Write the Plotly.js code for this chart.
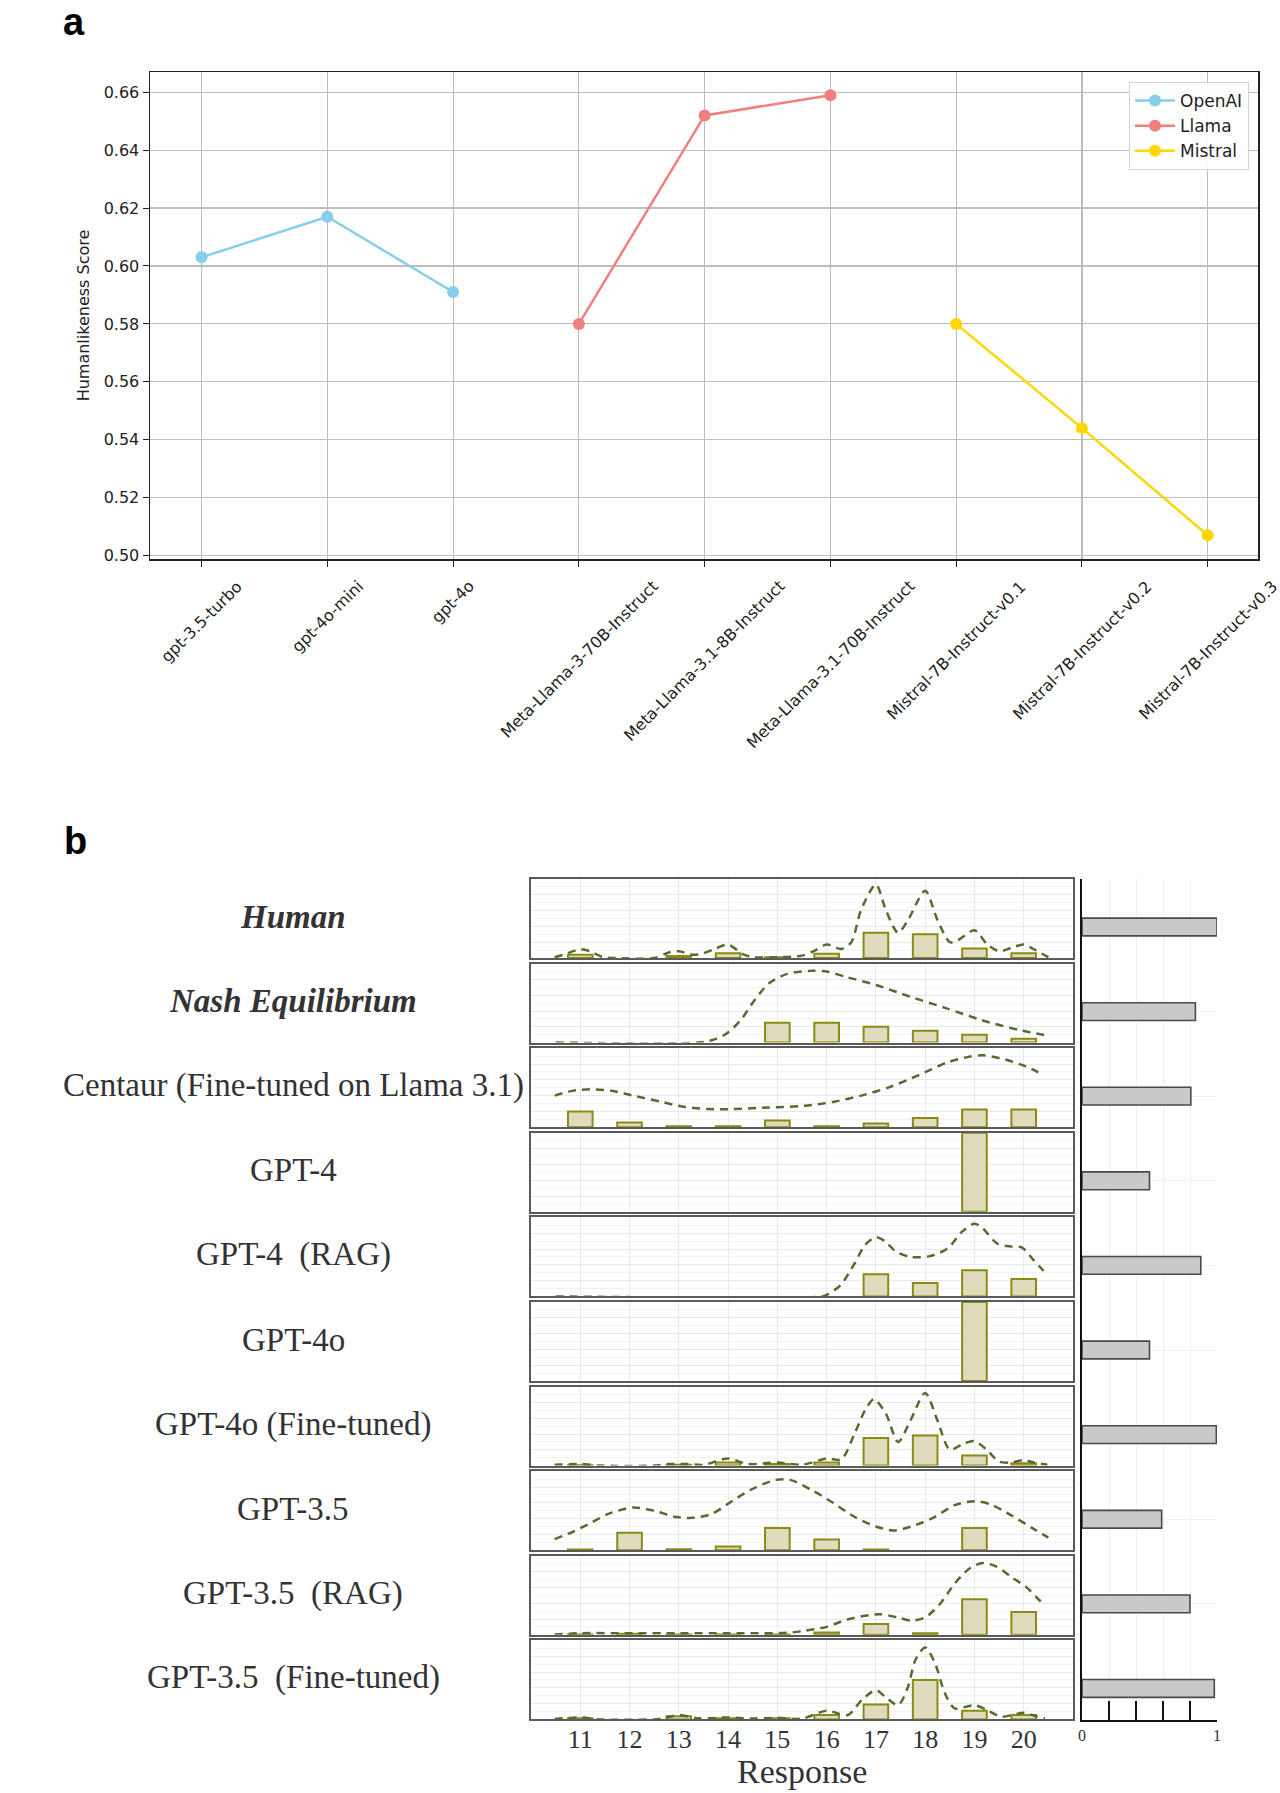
<!DOCTYPE html>
<html><head><meta charset="utf-8">
<script src="https://cdn.plot.ly/plotly-3.0.1.min.js"></script>
<style>body{margin:0;background:#fff}#chart{width:1280px;height:1793px}</style>
</head><body><div id="chart"></div>
<script>
// ---------------- Panel a data ----------------
const modelNames = ['gpt-3.5-turbo','gpt-4o-mini','gpt-4o','Meta-Llama-3-70B-Instruct','Meta-Llama-3.1-8B-Instruct','Meta-Llama-3.1-70B-Instruct','Mistral-7B-Instruct-v0.1','Mistral-7B-Instruct-v0.2','Mistral-7B-Instruct-v0.3'];
const openaiModels = ['gpt-3.5-turbo','gpt-4o-mini','gpt-4o'];
const openaiScores = [0.603, 0.617, 0.591];
const llamaModels = ['Meta-Llama-3-70B-Instruct','Meta-Llama-3.1-8B-Instruct','Meta-Llama-3.1-70B-Instruct'];
const llamaScores = [0.580, 0.652, 0.659];
const mistralModels = ['Mistral-7B-Instruct-v0.1','Mistral-7B-Instruct-v0.2','Mistral-7B-Instruct-v0.3'];
const mistralScores = [0.580, 0.544, 0.507];
const scoreTicks = [0.50, 0.52, 0.54, 0.56, 0.58, 0.60, 0.62, 0.64, 0.66];

// ---------------- Panel b data ----------------
const responses = [11, 12, 13, 14, 15, 16, 17, 18, 19, 20];
const rowLabels = ['Human','Nash Equilibrium','Centaur (Fine-tuned on Llama 3.1)','GPT-4','GPT-4\u00a0 (RAG)','GPT-4o','GPT-4o (Fine-tuned)','GPT-3.5','GPT-3.5\u00a0 (RAG)','GPT-3.5\u00a0 (Fine-tuned)'];

const humanBars    = [0.04, 0, 0.025, 0.06, 0.01, 0.055, 0.32, 0.30, 0.12, 0.06];
const nashBars     = [0, 0, 0, 0, 0.25, 0.25, 0.20, 0.15, 0.10, 0.05];
const centaurBars  = [0.20, 0.06, 0.013, 0.013, 0.085, 0.013, 0.047, 0.115, 0.225, 0.225];
const gpt4Bars     = [0, 0, 0, 0, 0, 0, 0, 0, 1.0, 0];
const gpt4RagBars  = [0, 0, 0, 0, 0, 0, 0.28, 0.17, 0.33, 0.22];
const gpt4oBars    = [0, 0, 0, 0, 0, 0, 0, 0, 1.0, 0];
const gpt4oFtBars  = [0.005, 0, 0.01, 0.04, 0.02, 0.04, 0.35, 0.38, 0.127, 0.03];
const gpt35Bars    = [0.01, 0.22, 0.013, 0.046, 0.28, 0.135, 0.008, 0, 0.28, 0];
const gpt35RagBars = [0.005, 0.013, 0.005, 0.005, 0.005, 0.03, 0.136, 0.02, 0.45, 0.29];
const gpt35FtBars  = [0.013, 0, 0.04, 0.013, 0.013, 0.055, 0.19, 0.50, 0.11, 0.055];

// density curves
const humanDensX = [10.48,10.7,11,11.2,11.46,11.7,12.5,12.8,13,13.3,13.5,13.75,14,14.3,14.5,15,15.5,15.75,16,16.3,16.5,16.7,17,17.2,17.45,17.65,18,18.25,18.5,18.65,19,19.25,19.5,19.75,20,20.25,20.5];
const humanDensY = [0.01,0.05,0.11,0.085,0.01,0,0,0.07,0.085,0.04,0.06,0.12,0.17,0.05,0.01,0.01,0.03,0.09,0.17,0.115,0.2,0.61,0.93,0.61,0.32,0.48,0.85,0.48,0.2,0.22,0.35,0.18,0.085,0.13,0.17,0.095,0.01];
const nashDensX = [10.5,13.4,13.67,13.96,14.25,14.54,14.83,15.2,15.7,16,16.4,17,17.7,18.45,19.17,19.9,20.48];
const nashDensY = [0,0,0.03,0.11,0.28,0.54,0.75,0.87,0.91,0.9,0.83,0.73,0.58,0.43,0.28,0.16,0.09];
const centaurDensX = [10.48,10.84,11.2,11.64,12.14,12.65,13.09,13.6,14.1,14.83,15.55,16.13,16.7,17.29,17.87,18.45,18.88,19.17,19.6,20.04,20.4];
const centaurDensY = [0.40,0.46,0.48,0.46,0.39,0.32,0.26,0.23,0.23,0.25,0.27,0.32,0.40,0.51,0.66,0.82,0.89,0.91,0.86,0.77,0.66];
const gpt4RagDensX = [10.5,15.9,16,16.28,16.57,16.78,17,17.2,17.4,17.7,18.1,18.46,18.75,19,19.17,19.46,19.75,19.96,20.2,20.48];
const gpt4RagDensY = [0,0,0.02,0.14,0.42,0.65,0.75,0.69,0.57,0.50,0.51,0.61,0.82,0.92,0.86,0.67,0.63,0.62,0.46,0.27];
const gpt4oFtDensX = [10.48,11,11.4,12.5,12.8,13.16,13.5,14,14.4,15,15.5,16,16.3,16.57,16.78,16.96,17.2,17.45,17.7,18,18.25,18.5,18.75,19,19.25,19.5,19.75,20,20.2,20.48];
const gpt4oFtDensY = [0.01,0.02,0,0,0.02,0.02,0.01,0.09,0.02,0.04,0.01,0.09,0.08,0.41,0.70,0.84,0.66,0.30,0.57,0.92,0.57,0.2,0.27,0.31,0.2,0.05,0.04,0.07,0.04,0.01];
const gpt35DensX = [10.48,10.84,11.2,11.57,12.07,12.5,12.94,13.3,13.67,14.1,14.54,14.97,15.26,15.7,16.13,16.57,17,17.36,17.72,18.16,18.6,19,19.33,19.75,20.2,20.5];
const gpt35DensY = [0.14,0.23,0.34,0.46,0.54,0.50,0.42,0.41,0.46,0.63,0.79,0.89,0.89,0.76,0.60,0.42,0.30,0.25,0.30,0.41,0.57,0.62,0.58,0.44,0.27,0.16];
const gpt35RagDensX = [10.48,11,12,13,14,15.2,15.55,16,16.4,16.87,17.1,17.45,17.72,18,18.3,18.6,18.9,19.17,19.46,19.75,20.04,20.25,20.43];
const gpt35RagDensY = [0.005,0.02,0.02,0.02,0.02,0.025,0.05,0.1,0.19,0.25,0.26,0.22,0.18,0.22,0.39,0.65,0.84,0.91,0.86,0.73,0.61,0.48,0.37];
const gpt35FtDensX = [10.48,11,11.4,12.5,12.65,13,13.4,14,14.46,15,15.5,16,16.43,16.72,17,17.2,17.45,17.65,17.8,18,18.2,18.4,18.6,19,19.25,19.55,20,20.25,20.43];
const gpt35FtDensY = [0.005,0.025,0,0,0.01,0.055,0.013,0.025,0.01,0.02,0.01,0.11,0.055,0.25,0.37,0.28,0.18,0.41,0.75,0.91,0.71,0.33,0.14,0.18,0.12,0.034,0.084,0.04,0.013];

// humanlikeness bars on the right of panel b
const humanlikeness = [1.0, 0.84, 0.806, 0.50, 0.88, 0.50, 0.995, 0.59, 0.80, 0.98];
const rightTicks = [0, 0.2, 0.4, 0.6, 0.8, 1.0];
const rightTickText = ['0', '', '', '', '', '1'];

// ---------------- build ----------------
const W = 1280, H = 1793;
const px = v => v / W;
const py = v => 1 - v / H;

const barSets = [humanBars, nashBars, centaurBars, gpt4Bars, gpt4RagBars, gpt4oBars, gpt4oFtBars, gpt35Bars, gpt35RagBars, gpt35FtBars];
const densSets = [[humanDensX, humanDensY],[nashDensX, nashDensY],[centaurDensX, centaurDensY],null,[gpt4RagDensX, gpt4RagDensY],null,[gpt4oFtDensX, gpt4oFtDensY],[gpt35DensX, gpt35DensY],[gpt35RagDensX, gpt35RagDensY],[gpt35FtDensX, gpt35FtDensY]];

const fontA = 'DejaVu Sans, sans-serif';
const fontB = 'Liberation Serif, Times New Roman, serif';

const traces = [
  {x: openaiModels, y: openaiScores, name: 'OpenAI', type: 'scatter', mode: 'lines+markers',
   line: {color: '#87CEEB', width: 2.5}, marker: {color: '#87CEEB', size: 12}, xaxis: 'x', yaxis: 'y'},
  {x: llamaModels, y: llamaScores, name: 'Llama', type: 'scatter', mode: 'lines+markers',
   line: {color: '#F08080', width: 2.5}, marker: {color: '#F08080', size: 12}, xaxis: 'x', yaxis: 'y'},
  {x: mistralModels, y: mistralScores, name: 'Mistral', type: 'scatter', mode: 'lines+markers',
   line: {color: '#FFD700', width: 2.5}, marker: {color: '#FFD700', size: 12}, xaxis: 'x', yaxis: 'y'}
];

const layout = {
  width: W, height: H, margin: {l: 0, r: 0, t: 0, b: 0},
  paper_bgcolor: '#fff', plot_bgcolor: '#fff',
  showlegend: true,
  bargap: 0,
  legend: {x: px(1249), xanchor: 'right', y: py(82), yanchor: 'top', bordercolor: '#d4d4d4', borderwidth: 1,
           itemwidth: 40, bgcolor: 'rgba(255,255,255,0.9)', font: {family: fontA, size: 17, color: '#222'}},
  xaxis: {domain: [px(150), px(1258)], anchor: 'y', type: 'category', categoryarray: modelNames,
          range: [-0.41, 8.4], showgrid: true, gridcolor: '#bdbdbd', gridwidth: 1.2,
          showline: true, linecolor: '#222', linewidth: 1.5, mirror: true,
          ticks: 'outside', ticklen: 6, tickcolor: '#222', showticklabels: false, zeroline: false},
  yaxis: {domain: [py(559), py(72)], anchor: 'x', range: [0.4988, 0.667], tickvals: scoreTicks, tickformat: '.2f',
          showgrid: true, gridcolor: '#bdbdbd', gridwidth: 1.2,
          showline: true, linecolor: '#222', linewidth: 1.5, mirror: true,
          ticks: 'outside', ticklen: 6, tickcolor: '#222', zeroline: false,
          tickfont: {family: fontA, size: 16, color: '#222'},
          title: {text: 'Humanlikeness Score', font: {family: fontA, size: 16, color: '#222'}, standoff: 10}},
  annotations: [], shapes: []
};

// rotated category labels (centred under ticks, as in the original)
modelNames.forEach(m => {
  layout.annotations.push({x: m, xref: 'x', y: py(559), yref: 'paper', yanchor: 'top', xanchor: 'center',
    yshift: -15, textangle: -45, text: m, showarrow: false, font: {family: fontA, size: 16, color: '#222'}});
});

// panel letters
layout.annotations.push({x: px(74), y: py(22), xref: 'paper', yref: 'paper', xanchor: 'center', yanchor: 'middle',
  text: '<b>a</b>', showarrow: false, font: {family: 'Liberation Sans, Arial, sans-serif', size: 38, color: '#000'}});
layout.annotations.push({x: px(75), y: py(841), xref: 'paper', yref: 'paper', xanchor: 'center', yanchor: 'middle',
  text: '<b>b</b>', showarrow: false, font: {family: 'Liberation Sans, Arial, sans-serif', size: 38, color: '#000'}});

// facets
const rowTop0 = 879, pitch = 84.6, rowH = 79;
for (let i = 0; i < 10; i++) {
  const n = i + 2;
  const top = rowTop0 + i * pitch, bot = top + rowH;
  const xa = 'xaxis' + n, ya = 'yaxis' + n;
  layout[xa] = {domain: [px(531), px(1073)], anchor: 'y' + n, range: [10, 21],
    tickvals: responses, showgrid: true, gridcolor: '#e9e9e9', gridwidth: 1,
    showline: true, linecolor: '#5a5a5a', linewidth: 2, mirror: true, zeroline: false,
    ticks: '', showticklabels: i === 9, ticklabelstandoff: -5,
    tickfont: {family: fontB, size: 26, color: '#333'}};
  if (i > 0) layout[xa].matches = 'x2';
  layout[ya] = {domain: [py(bot), py(top)], anchor: 'x' + n, range: [0, 1],
    dtick: 0.2, showgrid: true, gridcolor: '#e9e9e9', gridwidth: 1,
    minor: {dtick: 0.1, showgrid: true, gridcolor: '#f3f3f3', gridwidth: 1},
    showline: true, linecolor: '#5a5a5a', linewidth: 2, mirror: true, zeroline: false,
    showticklabels: false, ticks: ''};
  // empty categories are left out so no outline is drawn on the baseline
  traces.push({x: responses, y: barSets[i].map(v => (v === 0 ? null : v)), type: 'bar', width: 0.5, showlegend: false,
    marker: {color: '#dedcbc', line: {color: '#8a8a14', width: 2}}, xaxis: 'x' + n, yaxis: 'y' + n});
  if (densSets[i]) {
    traces.push({x: densSets[i][0], y: densSets[i][1], type: 'scatter', mode: 'lines', showlegend: false,
      line: {color: '#556b2f', width: 2.5, dash: '8px,6px', shape: 'spline', smoothing: 0.8},
      xaxis: 'x' + n, yaxis: 'y' + n, cliponaxis: true});
  }
  const label = i < 2 ? '<b><i>' + rowLabels[i] + '</i></b>' : rowLabels[i];
  layout.annotations.push({x: px(293), y: py(top + rowH / 2 - 2), xref: 'paper', yref: 'paper',
    xanchor: 'center', yanchor: 'middle', text: label, showarrow: false,
    font: {family: fontB, size: 33, color: '#333'}});
}

layout.annotations.push({x: px(802), y: py(1792), xref: 'paper', yref: 'paper', xanchor: 'center', yanchor: 'bottom',
  text: 'Response', showarrow: false, font: {family: fontB, size: 34, color: '#333'}});

// right bar panel
layout.xaxis12 = {domain: [px(1082), px(1217)], anchor: 'y12', range: [0, 1], tickvals: rightTicks, ticktext: rightTickText,
  showgrid: true, gridcolor: '#efefef', gridwidth: 1, showline: true, linecolor: '#111', linewidth: 2,
  ticks: 'inside', ticklen: 19, tickwidth: 2.5, tickcolor: '#111', zeroline: false,
  tickfont: {family: fontB, size: 16, color: '#333'}};
layout.yaxis12 = {domain: [py(1720), py(879)], anchor: 'x12', type: 'category', categoryarray: rowLabels,
  range: [9.373, -0.567], showgrid: true, gridcolor: '#f0f0f0', gridwidth: 1,
  showline: true, linecolor: '#111', linewidth: 2, showticklabels: false, ticks: '', zeroline: false};
traces.push({x: humanlikeness, y: rowLabels, type: 'bar', orientation: 'h', width: 0.21, showlegend: false,
  marker: {color: '#c9c9c9', line: {color: '#4a4a4a', width: 1.6}}, xaxis: 'x12', yaxis: 'y12'});

Plotly.newPlot('chart', traces, layout, {staticPlot: true});
</script>
</body></html>
